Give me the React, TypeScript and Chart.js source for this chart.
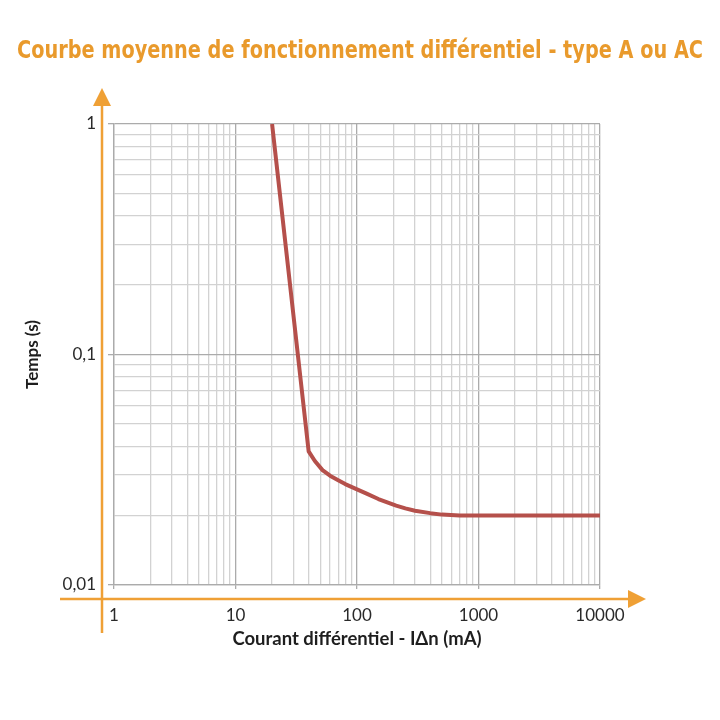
import { useEffect, useRef } from 'react'
import { Chart, registerables, Plugin } from 'chart.js'

Chart.register(...registerables)

const chartTitle = 'Courbe moyenne de fonctionnement différentiel - type A ou AC'

// Courbe : courant différentiel (mA) -> temps de déclenchement (s)
const currentMa = [20, 40, 45, 52, 60, 70, 80, 100, 120, 150, 210, 250, 300, 400, 500, 700, 1000, 10000]
const timeS = [1, 0.038, 0.0345, 0.0315, 0.0298, 0.0285, 0.0274, 0.026, 0.0249, 0.0236, 0.0221, 0.0215, 0.021, 0.0205, 0.0202, 0.02, 0.02, 0.02]

// graduations
const gridSteps = [1, 2, 3, 4, 5, 6, 7, 8, 9]
const xMajorValues = [1, 10, 100, 1000, 10000]
const xTickLabels = ['1', '10', '100', '1000', '10000']
const yMajorValues = [0.01, 0.1, 1]
const yTickLabels = ['0,01', '0,1', '1']

const ORANGE = '#EFA035'
const TITLE_ORANGE = '#E99A2C'
const GRID_MAJOR = '#ABABAB'
const GRID_MINOR = '#D2D2D2'
const CURVE = '#B5504B'

const round = (v: number) => Number(v.toPrecision(6))

function buildGrid(majors: number[]) {
  const values: number[] = []
  for (let i = 0; i < majors.length - 1; i++) {
    gridSteps.forEach(s => values.push(round(majors[i] * s)))
  }
  values.push(majors[majors.length - 1])
  return values
}

const near = (a: number, b: number) => Math.abs(a - b) < b * 1e-6

function labelFor(value: number, majors: number[], labels: string[]) {
  const i = majors.findIndex(m => near(value, m))
  return i >= 0 ? labels[i] : ''
}

// titre dessiné à la main, en police "condensée" (DejaVu Sans Bold resserrée)
const headerTitle: Plugin = {
  id: 'headerTitle',
  afterDraw(chart) {
    const { ctx, width } = chart
    ctx.save()
    ctx.font = 'bold 24px "DejaVu Sans", sans-serif'
    const natural = ctx.measureText(chartTitle).width
    const sx = Math.min(1, 686 / natural)
    ctx.translate(width / 2, 58)
    ctx.scale(sx, 1)
    ctx.fillStyle = TITLE_ORANGE
    ctx.textAlign = 'center'
    ctx.textBaseline = 'alphabetic'
    ctx.fillText(chartTitle, 0, 0)
    ctx.restore()
  }
}

const orangeAxes: Plugin = {
  id: 'orangeAxes',
  afterDraw(chart) {
    const { ctx, chartArea } = chart
    const { left, right, top, bottom } = chartArea
    const ax = left - 12
    const ay = bottom + 14
    ctx.save()
    ctx.strokeStyle = ORANGE
    ctx.fillStyle = ORANGE
    ctx.lineWidth = 2.5
    ctx.beginPath()
    ctx.moveTo(ax, bottom + 48)
    ctx.lineTo(ax, top - 22)
    ctx.moveTo(left - 54, ay)
    ctx.lineTo(right + 30, ay)
    ctx.stroke()
    // flèche verticale
    ctx.beginPath()
    ctx.moveTo(ax, top - 36)
    ctx.lineTo(ax - 9, top - 18)
    ctx.lineTo(ax + 9, top - 18)
    ctx.closePath()
    ctx.fill()
    // flèche horizontale
    ctx.beginPath()
    ctx.moveTo(right + 46, ay)
    ctx.lineTo(right + 28, ay - 9)
    ctx.lineTo(right + 28, ay + 9)
    ctx.closePath()
    ctx.fill()
    ctx.restore()
  }
}

export default function App() {
  const chartRef = useRef<HTMLCanvasElement>(null)
  const chartInstance = useRef<Chart | null>(null)

  useEffect(() => {
    if (!chartRef.current) return
    if (chartInstance.current) chartInstance.current.destroy()
    const ctx = chartRef.current.getContext('2d')
    if (!ctx) return

    const xGrid = buildGrid(xMajorValues)
    const yGrid = buildGrid(yMajorValues)
    const isXMajor = (v: number) => xMajorValues.some(m => near(v, m))
    const isYMajor = (v: number) => yMajorValues.some(m => near(v, m))

    chartInstance.current = new Chart(ctx, {
      type: 'line',
      data: {
        datasets: [
          {
            label: 'Temps',
            data: currentMa.map((x, i) => ({ x, y: timeS[i] })),
            borderColor: CURVE,
            borderWidth: 4,
            borderJoinStyle: 'round',
            pointRadius: 0,
            tension: 0,
            fill: false
          }
        ]
      },
      options: {
        responsive: true,
        maintainAspectRatio: false,
        animation: false,
        layout: { padding: { left: 20, top: 124, right: 120, bottom: 65 } },
        plugins: {
          legend: { display: false },
          tooltip: { enabled: false },
          title: { display: false }
        },
        scales: {
          x: {
            type: 'logarithmic',
            min: 1,
            max: 10000,
            afterBuildTicks: (scale: any) => {
              scale.ticks = xGrid.map(v => ({ value: v, major: isXMajor(v) }))
            },
            afterFit: (scale: any) => {
              scale.height = 70
            },
            ticks: {
              autoSkip: false,
              maxRotation: 0,
              padding: 16,
              color: '#2a2a2a',
              font: { family: 'Lato, "Open Sans", sans-serif', size: 17 },
              callback: (value: any) => labelFor(Number(value), xMajorValues, xTickLabels)
            },
            grid: {
              color: (c: any) => (c.tick && isXMajor(c.tick.value) ? GRID_MAJOR : GRID_MINOR),
              lineWidth: 1.3,
              drawTicks: true,
              tickLength: 4,
              tickColor: (c: any) => (c.tick && isXMajor(c.tick.value) ? GRID_MAJOR : 'rgba(0,0,0,0)')
            },
            border: { display: true, color: GRID_MAJOR, width: 1.3 },
            title: {
              display: true,
              text: 'Courant différentiel - IΔn (mA)',
              color: '#1e1e1e',
              font: { family: 'Lato, "Open Sans", sans-serif', size: 18.5, weight: 'bold' },
              padding: { top: 0, bottom: 5 }
            }
          },
          y: {
            type: 'logarithmic',
            min: 0.01,
            max: 1,
            afterBuildTicks: (scale: any) => {
              scale.ticks = yGrid.map(v => ({ value: v, major: isYMajor(v) }))
            },
            afterFit: (scale: any) => {
              scale.width = 94
            },
            ticks: {
              autoSkip: false,
              padding: 12,
              color: '#2a2a2a',
              font: { family: 'Lato, "Open Sans", sans-serif', size: 17 },
              callback: (value: any) => labelFor(Number(value), yMajorValues, yTickLabels)
            },
            grid: {
              color: (c: any) => (c.tick && isYMajor(c.tick.value) ? GRID_MAJOR : GRID_MINOR),
              lineWidth: 1.3,
              drawTicks: true,
              tickLength: 6,
              tickColor: (c: any) => (c.tick && isYMajor(c.tick.value) ? GRID_MAJOR : 'rgba(0,0,0,0)')
            },
            border: { display: true, color: GRID_MAJOR, width: 1.3 },
            title: {
              display: true,
              text: 'Temps (s)',
              color: '#1e1e1e',
              font: { family: 'Lato, "Open Sans", sans-serif', size: 17, weight: 'bold' },
              padding: { top: 2, bottom: 0 }
            }
          }
        }
      },
      plugins: [headerTitle, orangeAxes]
    })

    return () => {
      if (chartInstance.current) {
        chartInstance.current.destroy()
        chartInstance.current = null
      }
    }
  }, [])

  return (
    <div style={{ position: 'fixed', left: 0, top: 0, width: 720, height: 720, background: '#fff' }}>
      <canvas ref={chartRef} />
    </div>
  )
}
